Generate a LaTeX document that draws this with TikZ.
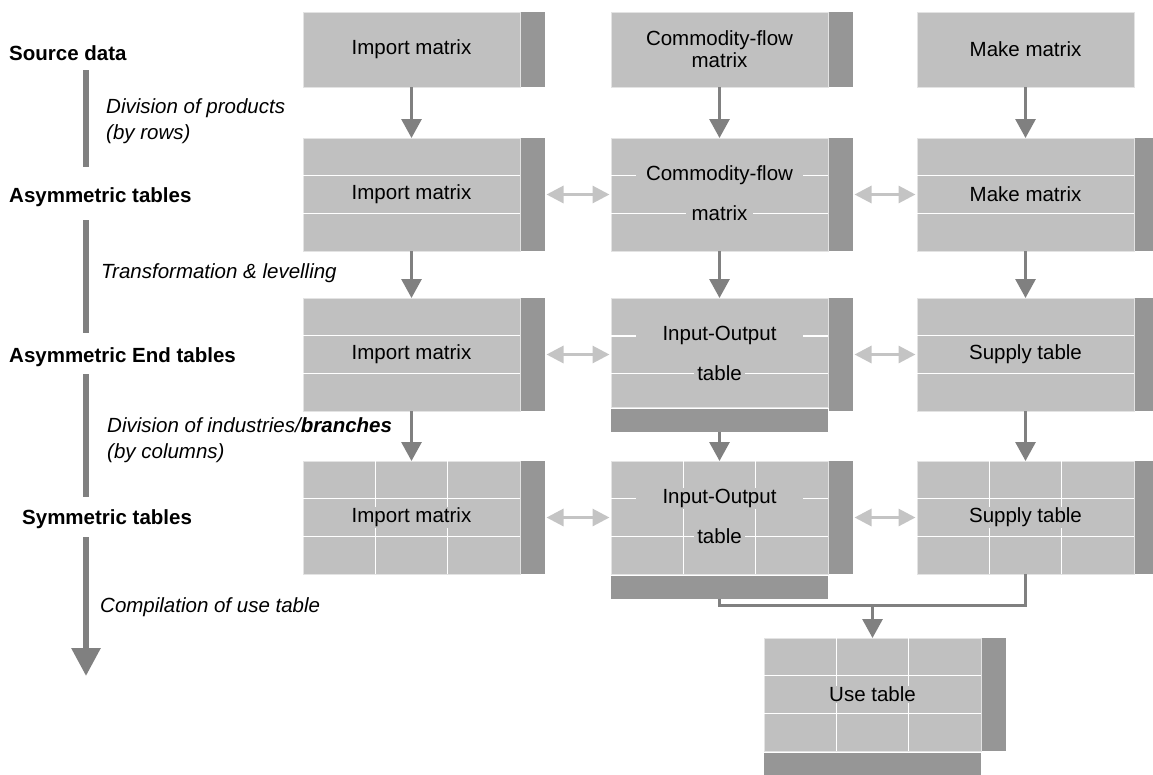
\documentclass[tikz,border=0pt]{standalone}
\usepackage{fontspec}
\setmainfont{Liberation Sans}
\usetikzlibrary{arrows.meta,calc}
\definecolor{boxgray}{HTML}{C0C0C0}
\definecolor{bargray}{HTML}{969696}
\definecolor{arrgray}{HTML}{808080}
\definecolor{dblgray}{HTML}{C4C4C4}
\newcommand{\bxfont}{\fontsize{20.5}{22}\selectfont}
\newcommand{\hgrid}[1]{%
  \draw[wline] ($(#1.north west)!1/3!(#1.south west)$) -- ($(#1.north east)!1/3!(#1.south east)$);
  \draw[wline] ($(#1.north west)!2/3!(#1.south west)$) -- ($(#1.north east)!2/3!(#1.south east)$);}
\newcommand{\vgrid}[1]{%
  \draw[wline] ($(#1.north west)!1/3!(#1.north east)$) -- ($(#1.south west)!1/3!(#1.south east)$);
  \draw[wline] ($(#1.north west)!2/3!(#1.north east)$) -- ($(#1.south west)!2/3!(#1.south east)$);}
\begin{document}
\begin{tikzpicture}[x=1pt,y=-1pt,
  mainbox/.style={draw=white!55!boxgray, line width=0.8pt, fill=boxgray, minimum width=217pt,
     inner sep=0pt, outer sep=0pt, anchor=north west, font=\bxfont, align=center},
  sidebar/.style={fill=bargray, minimum width=24pt, inner sep=0pt, outer sep=0pt, anchor=north west},
  botbar/.style={fill=bargray, minimum width=217pt, minimum height=23pt, inner sep=0pt, outer sep=0pt, anchor=north west},
  wline/.style={draw=white, line width=1.6pt},
  intext/.style={fill=boxgray, inner xsep=4pt, inner ysep=1pt, font=\bxfont},
  darr/.style={draw=arrgray, line width=3pt, -{Triangle[width=20pt,length=19pt]}},
  dblarr/.style={draw=dblgray, line width=3pt, {Triangle[width=17pt,length=17pt]}-{Triangle[width=17pt,length=17pt]},
     shorten <=1.5pt, shorten >=1.5pt},
  lbar/.style={draw=arrgray, line width=6pt},
  stage/.style={font=\bfseries\fontsize{20.5}{24}\selectfont, anchor=west, inner sep=0pt},
  step/.style={},
  note/.style={font=\itshape\fontsize{20.5}{26}\selectfont, anchor=west, align=left, inner sep=0pt}
]
\useasboundingbox (0,0) rectangle (1153,774);

% ---------- row 1: source data
\node[mainbox, minimum height=75pt] (b11) at (303,12) {Import matrix};
\node[sidebar, minimum height=75pt] (s11) at (521,12) {};
\node[mainbox, minimum height=75pt] (b12) at (611,12) {Commodity-flow\\matrix};
\node[sidebar, minimum height=75pt] (s12) at (829,12) {};
\node[mainbox, minimum height=75pt] (b13) at (917,12) {Make matrix};

% ---------- row 2: asymmetric tables
\node[mainbox, minimum height=113pt] (b21) at (303,138) {};
\node[sidebar, minimum height=113pt] (s21) at (521,138) {};
\node[mainbox, minimum height=113pt] (b22) at (611,138) {};
\node[sidebar, minimum height=113pt] (s22) at (829,138) {};
\node[mainbox, minimum height=113pt] (b23) at (917,138) {};
\node[sidebar, minimum height=113pt] (s23) at (1135,138) {};
\hgrid{b21}\hgrid{b22}\hgrid{b23}
\node[intext] (t21) at (b21.center) {Import matrix};
\node[intext, minimum width=167pt] (t22a) at ($(b22.north)!1/3!(b22.south)$) {Commodity-flow};
\node[intext, inner xsep=6pt] (t22b) at ($(b22.north)!2/3!(b22.south)$) {matrix};
\node[intext] (t23) at (b23.center) {Make matrix};

% ---------- row 3: asymmetric end tables
\node[mainbox, minimum height=113pt] (b31) at (303,298) {};
\node[sidebar, minimum height=113pt] (s31) at (521,298) {};
\node[mainbox, minimum height=109pt] (b32) at (611,298) {};
\node[sidebar, minimum height=113pt] (s32) at (829,298) {};
\node[botbar] (p32) at (611,409) {};
\node[mainbox, minimum height=113pt] (b33) at (917,298) {};
\node[sidebar, minimum height=113pt] (s33) at (1135,298) {};
\hgrid{b31}\hgrid{b33}
\draw[wline] (b32.north west |- 0,335.7) -- (b32.north east |- 0,335.7);
\draw[wline] (b32.north west |- 0,373.3) -- (b32.north east |- 0,373.3);
\node[intext] (t31) at (b31.center) {Import matrix};
\node[intext, minimum width=167pt] (t32a) at (719.5,335.7) {Input-Output};
\node[intext, inner xsep=3pt] (t32b) at (719.5,373.3) {table};
\node[intext] (t33) at (b33.center) {Supply table};

% ---------- row 4: symmetric tables
\node[mainbox, minimum height=113pt] (b41) at (303,461) {};
\node[sidebar, minimum height=113pt] (s41) at (521,461) {};
\node[mainbox, minimum height=113pt] (b42) at (611,461) {};
\node[sidebar, minimum height=113pt] (s42) at (829,461) {};
\node[botbar] (p42) at (611,576) {};
\node[mainbox, minimum height=113pt] (b43) at (917,461) {};
\node[sidebar, minimum height=113pt] (s43) at (1135,461) {};
\hgrid{b41}\vgrid{b41}\hgrid{b42}\vgrid{b42}\hgrid{b43}\vgrid{b43}
\node[intext] (t41) at (b41.center) {Import matrix};
\node[intext, minimum width=167pt] (t42a) at ($(b42.north)!1/3!(b42.south)$) {Input-Output};
\node[intext, inner xsep=3pt] (t42b) at ($(b42.north)!2/3!(b42.south)$) {table};
\node[intext] (t43) at (b43.center) {Supply table};

% ---------- use table
\node[mainbox, minimum height=113pt] (bu) at (764,638) {};
\node[sidebar, minimum height=113pt] (su) at (982,638) {};
\node[botbar] (pu) at (764,753) {};
\hgrid{bu}\vgrid{bu}
\node[intext] (tu) at (bu.center) {Use table};

% ---------- vertical arrows
\draw[darr] (b11.south) -- (b21.north);
\draw[darr] (b12.south) -- (b22.north);
\draw[darr] (b13.south) -- (b23.north);
\draw[darr] (b21.south) -- (b31.north);
\draw[darr] (b22.south) -- (b32.north);
\draw[darr] (b23.south) -- (b33.north);
\draw[darr] (b31.south) -- (b41.north);
\draw[darr] (p32.south) -- (b42.north);
\draw[darr] (b33.south) -- (b43.north);
\coordinate (mj) at (872.5,605);
\draw[draw=arrgray, line width=3pt] (p42.south) |- (mj) -| (b43.south);
\draw[darr] (mj) -- (bu.north);

% ---------- horizontal double arrows
\draw[dblarr] (s21.east) -- (s21.east -| b22.west);
\draw[dblarr] (s22.east) -- (s22.east -| b23.west);
\draw[dblarr] (s31.east) -- (s31.east -| b32.west);
\draw[dblarr] (s32.east) -- (s32.east -| b33.west);
\draw[dblarr] (s41.east) -- (s41.east -| b42.west);
\draw[dblarr] (s42.east) -- (s42.east -| b43.west);

% ---------- left column: stages
\node[stage] (l1) at (9,53) {Source data};
\node[stage] (l2) at (9,197) {Asymmetric tables};
\node[stage] (l3) at (9,357) {Asymmetric End tables};
\node[stage] (l4) at (22,519) {Symmetric tables};

\coordinate (a1) at (86,70);  \coordinate (a2) at (86,167);
\coordinate (a3) at (86,220); \coordinate (a4) at (86,333);
\coordinate (a5) at (86,374); \coordinate (a6) at (86,497);
\coordinate (a7) at (86,537); \coordinate (a8) at (86,676);
\draw[lbar] (a1) -- (a2);
\draw[lbar] (a3) -- (a4);
\draw[lbar] (a5) -- (a6);
\draw[lbar, -{Triangle[width=28pt,length=28pt]}] (a7) -- (a8);

\node[note] (n1) at (106,121.5) {Division of products\\(by rows)};
\node[note] (n2) at (101,273) {Transformation \& levelling};
\node[note] (n3) at (107,440.5) {Division of industries/\textbf{branches}\\(by columns)};
\node[note] (n4) at (100,607) {Compilation of use table};
\end{tikzpicture}
\end{document}
